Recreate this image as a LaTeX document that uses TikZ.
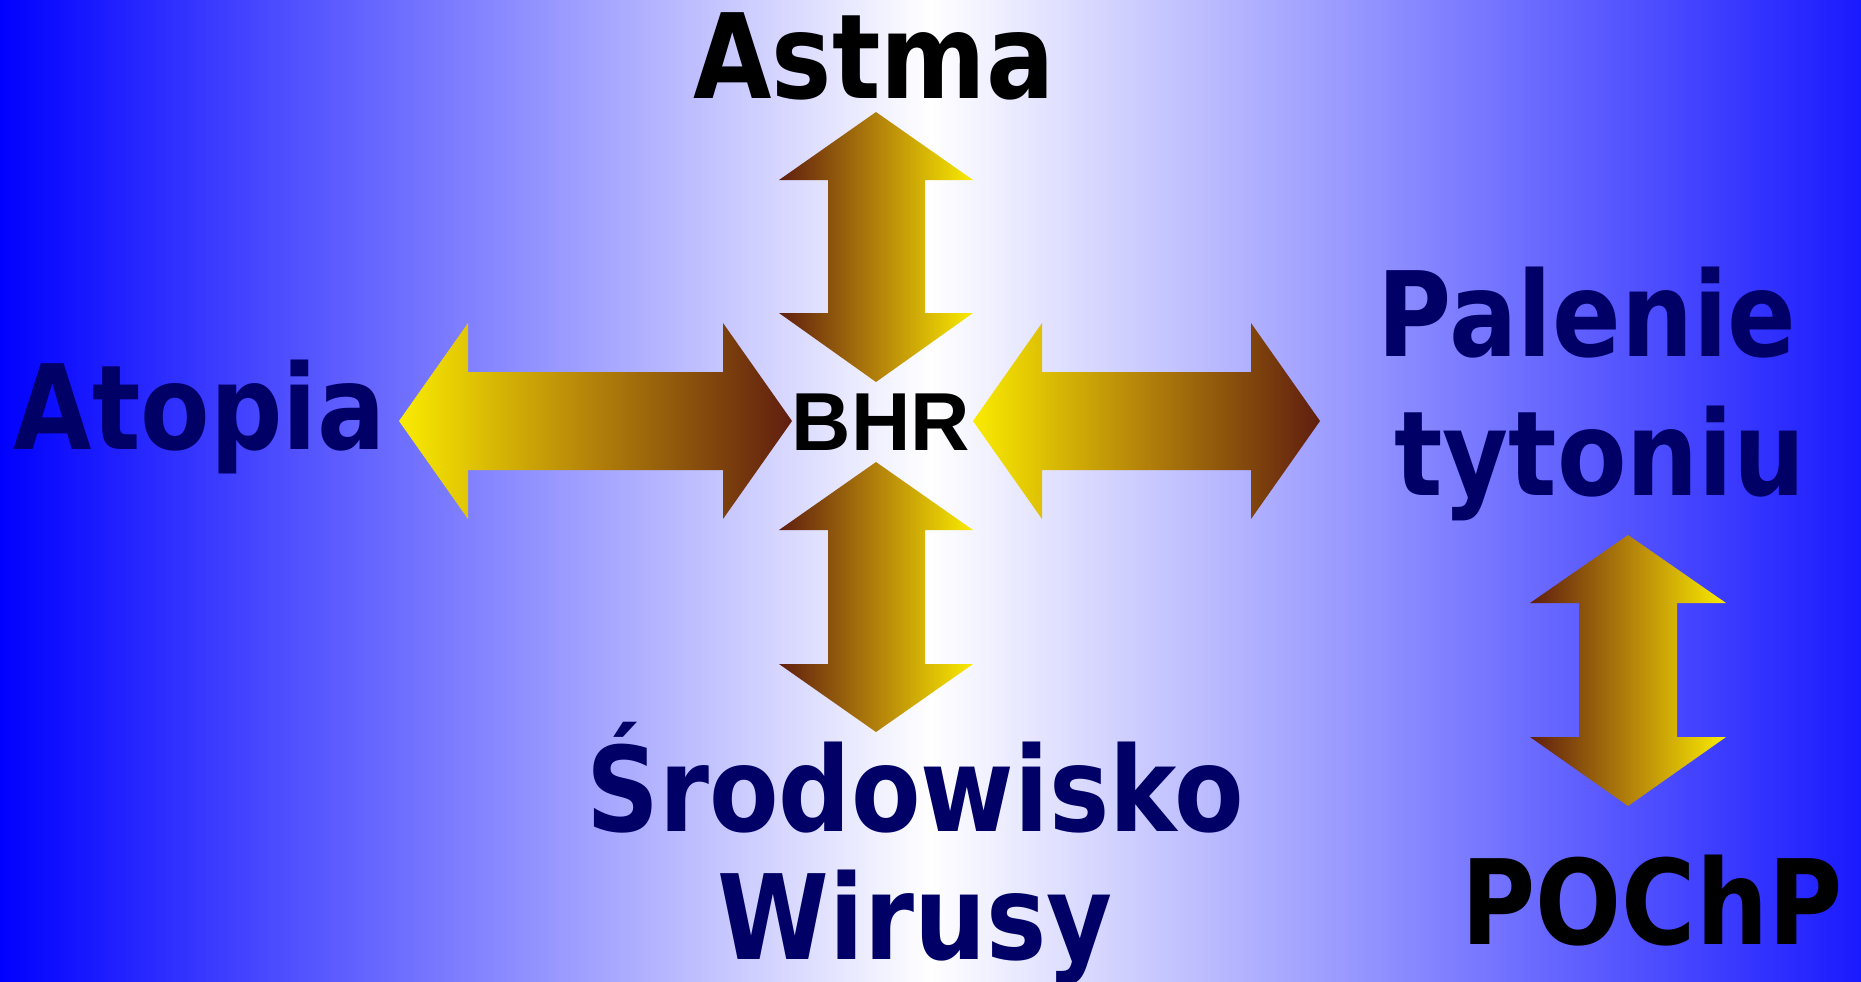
\documentclass[tikz,border=0pt]{standalone}
\usepackage{fontspec}
\usepackage{tikz}
\usepackage{xcolor}
\newfontfamily\lblfont[FakeStretch=0.86]{DejaVu Sans}
\newfontfamily\bhrfont{Liberation Sans}
\definecolor{navy}{RGB}{0,0,102}
\definecolor{bgblue}{RGB}{0,0,255}
\definecolor{goldlight}{RGB}{250,235,0}
\definecolor{goldmid}{RGB}{178,128,10}
\definecolor{golddark}{RGB}{95,30,15}

\begin{document}
\begin{tikzpicture}[x=0.01cm, y=-0.01cm,
	lbl/.style={inner sep=0, anchor=base, font=\lblfont\bfseries\fontsize{33.5}{40}\selectfont},
	harrow/.style={left color=goldlight, right color=golddark, middle color=goldmid},
	varrow/.style={left color=golddark, right color=goldlight, middle color=goldmid}]
	\useasboundingbox (0,0) rectangle (1861,981);
	% background
	\shade [left color=bgblue, right color=bgblue!90!white, middle color=white] (0,0) rectangle (1861,981);
	% horizontal arrows
	\shade [harrow] (399,421) -- (468,323) -- (468,372) -- (723,372) -- (723,323) -- (792,421)
		-- (723,519) -- (723,470) -- (468,470) -- (468,519) -- cycle;
	\shade [harrow] (973,421) -- (1042,323) -- (1042,372) -- (1251,372) -- (1251,323) -- (1320,421)
		-- (1251,519) -- (1251,470) -- (1042,470) -- (1042,519) -- cycle;
	% vertical arrows
	\shade [varrow] (876,112) -- (973,180) -- (925,180) -- (925,313) -- (973,313) -- (876,382)
		-- (779,313) -- (828,313) -- (828,180) -- (779,180) -- cycle;
	\shade [varrow] (876,462) -- (973,530) -- (925,530) -- (925,664) -- (973,664) -- (876,732)
		-- (779,664) -- (828,664) -- (828,530) -- (779,530) -- cycle;
	\shade [varrow] (1628,535) -- (1726,603) -- (1677,603) -- (1677,737) -- (1726,737) -- (1628,806)
		-- (1530,737) -- (1579,737) -- (1579,603) -- (1530,603) -- cycle;
	% labels
	\node [lbl] (astma) at (874,98) {Astma};
	\node [lbl, navy] (atopia) at (200,449) {Atopia};
	\node [inner sep=0, anchor=base, font=\bhrfont\bfseries\fontsize{23.4}{28}\selectfont] (bhr) at (881,450) {BHR};
	\node [lbl, navy] (palenie) at (1587,356) {Palenie};
	\node [lbl, navy] (tytoniu) at (1600,495) {tytoniu};
	\node [lbl, navy] (srodowisko) at (915,831) {Środowisko};
	\node [lbl, navy] (wirusy) at (915,959) {Wirusy};
	\node [lbl] (pochp) at (1652,944) {POChP};
\end{tikzpicture}
\end{document}
